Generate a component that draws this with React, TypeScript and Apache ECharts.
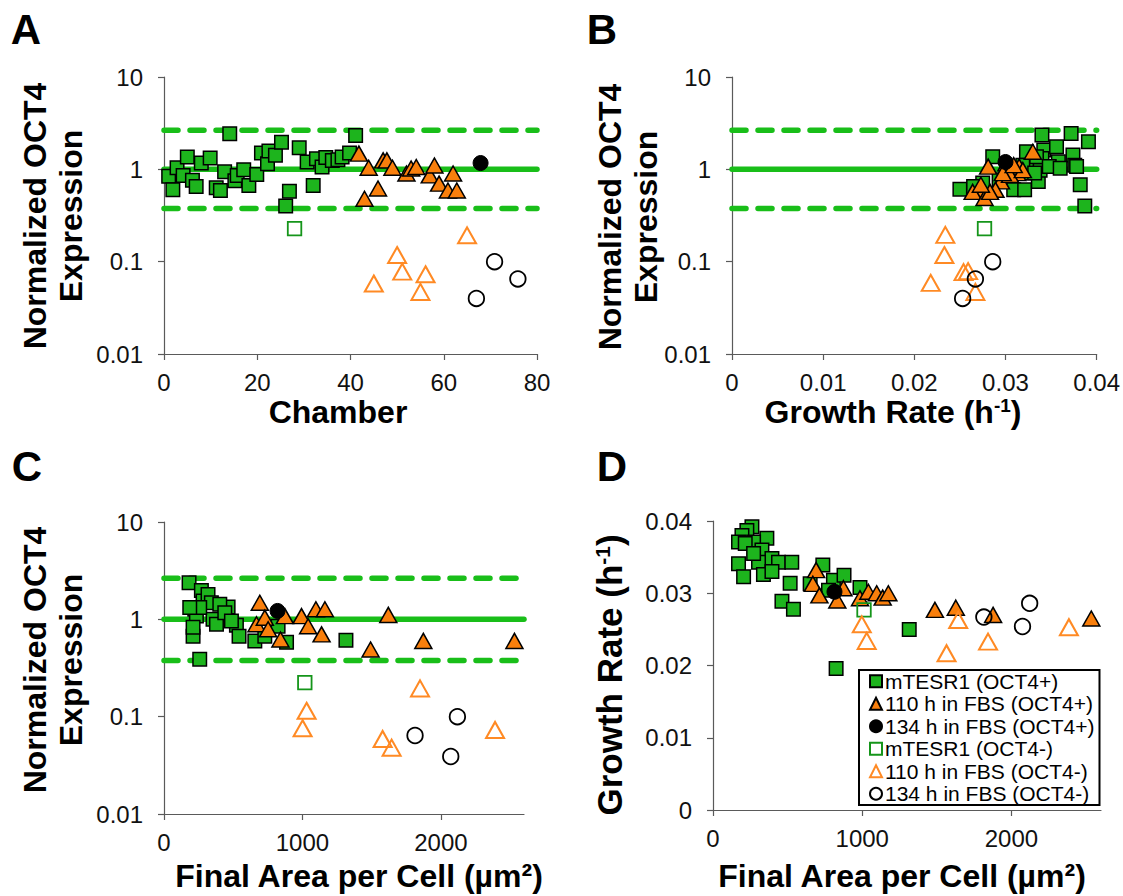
import React, { useEffect, useRef } from 'react';
import * as echarts from 'echarts';

type P = [number, number];

const FONT = '"Liberation Sans", Arial, sans-serif';

// reference levels (mean and bounds) for normalized OCT4
const refLevels = [0.377, 1, 2.65];
const logTickLabels = ['0.01', '0.1', '1', '10'];
const areaTicks = [0, 1000, 2000];

// Panel A: chamber vs normalized OCT4
const aFilledSq: P[] = [[1,0.84],[1.9,0.60],[2.8,1.04],[4.1,0.86],[5,1.36],[6.1,0.76],[6.9,0.65],[8,1.17],[9.9,1.33],[11.2,0.63],[12.1,0.59],[13,0.94],[14.1,2.43],[15.2,0.75],[15.7,0.86],[17.1,0.99],[18.2,0.67],[19.9,0.88],[20.9,1.5],[22.2,1.15],[22.5,1.58],[23.9,1.42],[25.2,1.97],[26.1,0.40],[26.9,0.58],[29,1.71],[30.7,1.2],[32,0.67],[32.7,1.3],[33.9,1.06],[34.7,1.34],[36.1,1.25],[37.3,1.27],[38.2,1.36],[39.8,1.5],[41.1,2.33]];
const aFilledTri: P[] = [[41.8,1.48],[43.9,1.04],[43,0.48],[45.9,0.62],[47,1.25],[47.8,1.25],[49,1.04],[52,0.9],[53,1.02],[54.1,1.06],[57,0.86],[58,1.1],[59,0.7],[60.9,0.59],[62,0.9],[62.8,0.59]];
const aFilledCirc: P[] = [[67.9,1.17]];
const aOpenSq: P[] = [[28,0.228]];
const aOpenTri: P[] = [[45,0.058],[50,0.118],[51.1,0.078],[55,0.047],[56.1,0.073],[65,0.193]];
const aOpenCirc: P[] = [[67,0.040],[70.9,0.100],[75.9,0.065]];

// Panel B: growth rate vs normalized OCT4
const bFilledSq: P[] = [[0.0250,0.61],[0.0275,0.71],[0.0286,1.37],[0.0293,0.77],[0.0309,0.60],[0.0323,1.55],[0.0321,0.60],[0.0327,0.91],[0.0330,1.16],[0.0336,0.74],[0.0340,2.35],[0.0342,1.62],[0.0340,1.31],[0.0338,0.98],[0.0356,1.76],[0.0358,1.21],[0.0372,2.45],[0.0374,1.43],[0.0376,1.11],[0.0378,1.07],[0.0382,0.68],[0.0387,0.40],[0.0391,1.99],[0.0334,1.37],[0.0348,1.07],[0.0319,1.11],[0.0303,0.98],[0.0360,1.03],[0.0332,0.91],[0.0267,0.57],[0.0265,0.65]];
const bFilledTri: P[] = [[0.0281,1.07],[0.0271,0.60],[0.0264,0.57],[0.0277,0.49],[0.0295,0.74],[0.0313,0.91],[0.0330,1.55],[0.0289,0.60],[0.0315,1.07],[0.0305,0.87],[0.0301,1.16],[0.0319,0.98],[0.0283,0.57],[0.0273,0.68],[0.0297,0.91],[0.0309,1.11]];
const bFilledCirc: P[] = [[0.0300,1.2]];
const bOpenSq: P[] = [[0.0277,0.228]];
const bOpenTri: P[] = [[0.0218,0.059],[0.0234,0.195],[0.0233,0.118],[0.0254,0.077],[0.0259,0.079],[0.0267,0.047]];
const bOpenCirc: P[] = [[0.0253,0.040],[0.0267,0.065],[0.0286,0.100]];

// Panel C: final area per cell vs normalized OCT4
const cFilledSq: P[] = [[181,2.37],[210,0.67],[258,0.39],[222,1.27],[234,1.08],[270,1.98],[282,1.54],[318,1.80],[342,1.48],[354,1.0],[379,0.89],[210,0.83],[258,1.32],[463,1.34],[523,0.87],[542,0.67],[656,0.60],[728,0.67],[824,0.85],[885,0.58],[1314,0.61],[186,1.32],[403,1.43],[439,1.17],[487,0.96]];
const cFilledTri: P[] = [[692,1.48],[668,0.89],[728,1.04],[752,0.79],[841,0.62],[873,1.08],[993,1.08],[1041,0.85],[1097,1.27],[1162,1.27],[1138,0.70],[1492,0.49],[1620,1.11],[1873,0.60],[2531,0.60]];
const cFilledCirc: P[] = [[820,1.22]];
const cOpenSq: P[] = [[1017,0.224]];
const cOpenTri: P[] = [[1030,0.115],[1001,0.076],[1579,0.059],[1644,0.048],[1849,0.195],[2391,0.073]];
const cOpenCirc: P[] = [[1813,0.064],[2119,0.100],[2071,0.039]];

// Panel D: final area per cell vs growth rate
const dFilledSq: P[] = [[261,0.0392],[227,0.0387],[194,0.0380],[171,0.0371],[361,0.0376],[272,0.0371],[216,0.0369],[328,0.0360],[395,0.0348],[439,0.0343],[528,0.0343],[171,0.0341],[205,0.0323],[305,0.0343],[338,0.0326],[395,0.0330],[272,0.0355],[517,0.0314],[462,0.0289],[539,0.0278],[736,0.0339],[807,0.0318],[878,0.0325],[985,0.0308],[825,0.0196],[1315,0.0250],[651,0.0313],[774,0.0304]];
const dFilledTri: P[] = [[691,0.0332],[669,0.0313],[713,0.0297],[833,0.0290],[874,0.0307],[985,0.0293],[1041,0.0302],[1097,0.0300],[1137,0.0294],[1175,0.0300],[1487,0.0277],[1627,0.0280],[1877,0.0270],[2535,0.0265]];
const dFilledCirc: P[] = [[814,0.0302]];
const dOpenSq: P[] = [[1012,0.0277]];
const dOpenTri: P[] = [[997,0.0257],[1030,0.0234],[1565,0.0217],[1643,0.0263],[1843,0.0233],[2385,0.0253]];
const dOpenCirc: P[] = [[1815,0.0267],[2074,0.0254],[2122,0.0286]];

const names = [
  'mTESR1 (OCT4+)',
  '110 h in FBS (OCT4+)',
  '134 h in FBS (OCT4+)',
  'mTESR1 (OCT4-)',
  '110 h in FBS (OCT4-)',
  '134 h in FBS (OCT4-)',
];

const HOLLOW = 'rgba(255,255,255,0)';
const styles: Record<string, any> = {
  'mTESR1 (OCT4+)': { symbol: 'rect', size: 13.5, fill: '#1DB41D', stroke: '#000', bw: 1.5 },
  '110 h in FBS (OCT4+)': { symbol: 'triangle', size: [17, 15], fill: '#F97F0C', stroke: '#000', bw: 1.5 },
  '134 h in FBS (OCT4+)': { symbol: 'circle', size: 15, fill: '#000', stroke: '#000', bw: 1 },
  'mTESR1 (OCT4-)': { symbol: 'rect', size: 13.5, fill: HOLLOW, stroke: '#15951A', bw: 1.8 },
  '110 h in FBS (OCT4-)': { symbol: 'triangle', size: [18, 16], fill: HOLLOW, stroke: '#FF8A24', bw: 2 },
  '134 h in FBS (OCT4-)': { symbol: 'circle', size: 15.5, fill: HOLLOW, stroke: '#000', bw: 1.8 },
};

const panels = [
  { data: [aFilledSq, aFilledTri, aFilledCirc, aOpenSq, aOpenTri, aOpenCirc], xMax: 80, ref: true },
  { data: [bFilledSq, bFilledTri, bFilledCirc, bOpenSq, bOpenTri, bOpenCirc], xMax: 0.04, ref: true },
  { data: [cFilledSq, cFilledTri, cFilledCirc, cOpenSq, cOpenTri, cOpenCirc], xMax: 2600, ref: true },
  { data: [dFilledSq, dFilledTri, dFilledCirc, dOpenSq, dOpenTri, dOpenCirc], xMax: 2600, ref: false },
];

const AX_COLOR = '#5a5a5a';
const TICK_FS = 24;
const axisBase = {
  axisLine: { show: true, onZero: false, lineStyle: { color: AX_COLOR, width: 1.2 } },
  axisTick: { show: true, inside: false, length: 6, lineStyle: { color: AX_COLOR, width: 1.2 } },
  splitLine: { show: false },
  minorTick: { show: false },
  minorSplitLine: { show: false },
};

const fmtLog = (v: number) => logTickLabels[Math.round(Math.log10(v)) + 2];
const fmtRate = (v: number) => (v === 0 ? '0' : v.toFixed(2));
const fmtPlain = (v: number) => String(Math.round(v));

function logY(gi: number) {
  return {
    ...axisBase,
    type: 'log', logBase: 10, min: 0.01, max: 10, gridIndex: gi,
    axisLabel: { fontSize: TICK_FS, color: '#111', fontFamily: FONT, margin: 21, formatter: fmtLog },
  };
}

const grids = [
  { left: 164, top: 77, width: 373, height: 277 },
  { left: 732, top: 77, width: 366, height: 277 },
  { left: 164, top: 522, width: 360, height: 292 },
  { left: 713, top: 521, width: 388, height: 289 },
];

const xLabel = { fontSize: TICK_FS, color: '#111', fontFamily: FONT, margin: 16 };

const areaAxis = (gi: number) => ({
  ...axisBase, type: 'value', gridIndex: gi, min: 0, max: 2600, interval: 1000,
  axisTick: { ...axisBase.axisTick, customValues: areaTicks },
  axisLabel: { ...xLabel, customValues: areaTicks, formatter: fmtPlain },
});

const xAxes = [
  { ...axisBase, type: 'value', gridIndex: 0, min: 0, max: 80, interval: 20, axisLabel: { ...xLabel, formatter: fmtPlain } },
  { ...axisBase, type: 'value', gridIndex: 1, min: 0, max: 0.04, interval: 0.01, axisLabel: { ...xLabel, formatter: fmtRate } },
  areaAxis(2),
  areaAxis(3),
];

const yAxes = [
  logY(0),
  logY(1),
  logY(2),
  { ...axisBase, type: 'value', gridIndex: 3, min: 0, max: 0.04, interval: 0.01,
    axisLabel: { fontSize: TICK_FS, color: '#111', fontFamily: FONT, margin: 21, formatter: fmtRate } },
];

const series: any[] = [];
panels.forEach((p, gi) => {
  if (p.ref) {
    refLevels.forEach((lv) => {
      series.push({
        type: 'line', xAxisIndex: gi, yAxisIndex: gi, silent: true, z: 1,
        data: [[0, lv], [p.xMax, lv]], symbol: 'none',
        lineStyle: { color: '#19BE19', width: 5.5, type: lv === 1 ? 'solid' : [14, 12], cap: 'round' },
      });
    });
  }
  p.data.forEach((d, si) => {
    const name = names[si];
    const st = styles[name];
    series.push({
      type: 'scatter', name, xAxisIndex: gi, yAxisIndex: gi, z: 3, data: d,
      symbol: st.symbol, symbolSize: st.size,
      itemStyle: { color: st.fill, borderColor: st.stroke, borderWidth: st.bw, opacity: 1 },
    });
  });
});

const titleFont = { fontSize: 32, fontWeight: 'bold', fontFamily: FONT, fill: '#000' };
const letterFont = { fontSize: 42, fontWeight: 'bold', fontFamily: FONT, fill: '#000' };

const txt = (text: string, x: number, y: number, font: any, rotation = 0, extra: any = {}) => ({
  type: 'text', x, y, rotation, silent: true,
  style: { text, align: 'center', verticalAlign: 'middle', ...font, ...extra },
});

const growthRich = (fs: number) => ({
  text: '{b|Growth Rate (h}{s|-1}{b|)}',
  rich: {
    b: { fontSize: fs, fontWeight: 'bold', fontFamily: FONT, fill: '#000' },
    s: { fontSize: Math.round(fs * 0.6), fontWeight: 'bold', fontFamily: FONT, fill: '#000', verticalAlign: 'top' },
  },
});

const graphic = [
  txt('A', 26, 29, letterFont),
  txt('B', 602, 29, letterFont),
  txt('C', 27, 466, letterFont),
  txt('D', 612, 466, letterFont),
  txt('Chamber', 338, 412, titleFont),
  { type: 'text', x: 893, y: 412, silent: true, style: { ...growthRich(32), align: 'center', verticalAlign: 'middle' } },
  txt('Final Area per Cell (µm²)', 359, 876, titleFont),
  txt('Final Area per Cell (µm²)', 902, 876, titleFont),
  txt('Normalized OCT4\nExpression', 53, 216, titleFont, Math.PI / 2, { lineHeight: 36 }),
  txt('Normalized OCT4\nExpression', 628, 217, titleFont, Math.PI / 2, { lineHeight: 36 }),
  txt('Normalized OCT4\nExpression', 53, 660, titleFont, Math.PI / 2, { lineHeight: 36 }),
  { type: 'text', x: 609, y: 675, rotation: Math.PI / 2, silent: true, style: { ...growthRich(35), align: 'center', verticalAlign: 'middle' } },
];

const option: any = {
  animation: false,
  backgroundColor: '#fff',
  textStyle: { fontFamily: FONT },
  grid: grids,
  xAxis: xAxes,
  yAxis: yAxes,
  legend: {
    data: names,
    orient: 'vertical',
    left: 859,
    top: 670,
    padding: [0, 5, 0, 10],
    itemGap: 0,
    itemWidth: 12,
    itemHeight: 12,
    backgroundColor: '#fff',
    borderColor: '#000',
    borderWidth: 2,
    borderRadius: 0,
    selectedMode: false,
    textStyle: { fontSize: 21, color: '#000', fontFamily: FONT, lineHeight: 22.5, padding: [0, 0, 0, -2] },
  },
  series,
  graphic,
};

export default function App() {
  const ref = useRef<HTMLDivElement>(null);
  useEffect(() => {
    const chart = echarts.init(ref.current!, null, { renderer: 'svg' });
    chart.setOption(option);
    return () => chart.dispose();
  }, []);
  return <div ref={ref} style={{ position: 'absolute', left: 0, top: 0, width: 1123, height: 896 }} />;
}
